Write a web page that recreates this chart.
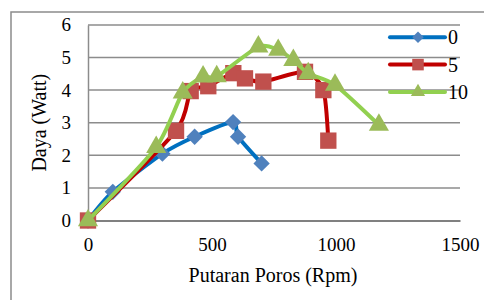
<!DOCTYPE html>
<html>
<head>
<meta charset="utf-8">
<script src="https://cdn.jsdelivr.net/npm/d3@7"></script>
<style>
  body { margin: 0; background: #fff; }
  text { font-family: "Liberation Serif", "Times New Roman", serif; fill: #000; }
</style>
</head>
<body>
<div id="chart"></div>
<script>
// series data (rpm, watt)
const rpm0 = [0, 100, 300, 430, 585, 605, 700];
const daya0 = [0, 0.88, 2.05, 2.57, 3.02, 2.57, 1.75];

const rpm5 = [0, 355, 414, 485, 586, 633, 707, 875, 949, 969];
const daya5 = [0, 2.75, 3.97, 4.12, 4.52, 4.36, 4.26, 4.56, 4.0, 2.45];

const rpm10 = [0, 275, 382, 464, 519, 687, 767, 828, 888, 996, 1173];
const daya10 = [0, 2.25, 3.92, 4.41, 4.42, 5.33, 5.23, 4.92, 4.51, 4.16, 2.93];

const xTicks = [0, 500, 1000, 1500];
const yTicks = [0, 1, 2, 3, 4, 5, 6];
const seriesNames = ["0", "5", "10"];

let width = 484,
  height = 300,
  margin = { left: 88, right: 24, top: 25, bottom: 80 };

let svg = d3
  .select("#chart")
  .append("svg")
  .attr("width", width)
  .attr("height", height);

// outer chart frame (cut off at right and bottom)
svg
  .append("rect")
  .attr("x", 11)
  .attr("y", 12)
  .attr("width", 490)
  .attr("height", 300)
  .attr("fill", "none")
  .attr("stroke", "#8c8c8c")
  .attr("stroke-width", 1.5);

let x = d3
  .scaleLinear()
  .domain([0, 1500])
  .range([margin.left, width - margin.right]);

let y = d3
  .scaleLinear()
  .domain([0, 6])
  .range([220.5, 24.9]);

// gridlines
svg
  .append("g")
  .selectAll("line")
  .data(yTicks.filter(d => d > 0))
  .enter()
  .append("line")
  .attr("x1", x(0))
  .attr("x2", x(1500))
  .attr("y1", d => y(d))
  .attr("y2", d => y(d))
  .attr("stroke", "#8c8c8c")
  .attr("stroke-width", 1.5);

// y axis
let yAxis = svg
  .append("g")
  .attr("transform", `translate(${x(0)},0)`)
  .call(
    d3
      .axisLeft(y)
      .tickValues(yTicks)
      .tickFormat(d3.format("d"))
      .tickSize(0)
      .tickPadding(17)
  );
yAxis.select(".domain").attr("stroke", "#8c8c8c").attr("stroke-width", 1.5);
yAxis.selectAll("text").attr("font-size", "19px");

// x axis
let xAxis = svg
  .append("g")
  .attr("transform", `translate(0,${y(0)})`)
  .call(
    d3
      .axisBottom(x)
      .tickValues(xTicks)
      .tickFormat(d3.format("d"))
      .tickSize(0)
      .tickPadding(17)
  );
xAxis.select(".domain").attr("stroke", "#808080").attr("stroke-width", 2);
xAxis.selectAll("text").attr("font-size", "19px");

// axis titles
svg
  .append("text")
  .attr("transform", `translate(46,${(y(0) + y(6)) / 2}) rotate(-90)`)
  .attr("text-anchor", "middle")
  .attr("font-size", "20px")
  .text("Daya (Watt)");

svg
  .append("text")
  .attr("x", 273)
  .attr("y", 282)
  .attr("text-anchor", "middle")
  .attr("font-size", "20px")
  .text("Putaran Poros (Rpm)");

let series = [
  { name: seriesNames[0], xs: rpm0, ys: daya0, line: "#0070c0", mark: "#4f81bd", shape: d3.symbolDiamond2, size: 170 },
  { name: seriesNames[1], xs: rpm5, ys: daya5, line: "#c00000", mark: "#c0504d", shape: d3.symbolSquare2, size: 340 },
  { name: seriesNames[2], xs: rpm10, ys: daya10, line: "#92d050", mark: "#9bbb59", shape: d3.symbolTriangle2, size: 290 }
];

let lineGen = d3
  .line()
  .x(d => x(d[0]))
  .y(d => y(d[1]))
  .curve(d3.curveCardinal.tension(0.3));

series.forEach(s => {
  let pts = s.xs.map((v, i) => [v, s.ys[i]]);
  let g = svg.append("g");
  g.append("path")
    .attr("d", lineGen(pts))
    .attr("fill", "none")
    .attr("stroke", s.line)
    .attr("stroke-width", 4)
    .attr("stroke-linejoin", "round");
  g.selectAll("path.mark")
    .data(pts)
    .enter()
    .append("path")
    .attr("class", "mark")
    .attr("transform", d => `translate(${x(d[0])},${y(d[1])})`)
    .attr("d", d3.symbol().type(s.shape).size(s.size))
    .attr("fill", s.mark);
});

// legend
let legend = svg
  .selectAll(".legend")
  .data(series)
  .enter()
  .append("g")
  .attr("class", "legend")
  .attr("transform", (d, i) => `translate(390,${37.3 + i * 27.3})`);

legend
  .append("line")
  .attr("x1", 0)
  .attr("x2", 55)
  .attr("stroke", d => d.line)
  .attr("stroke-width", 4)
  .attr("stroke-linecap", "round");

legend
  .append("path")
  .attr("transform", "translate(28,0)")
  .attr("d", d => d3.symbol().type(d.shape).size(d.size * 0.5)())
  .attr("fill", d => d.mark);

legend
  .append("text")
  .attr("x", 58)
  .attr("y", 7)
  .attr("font-size", "20px")
  .text(d => d.name);
</script>
</body>
</html>
